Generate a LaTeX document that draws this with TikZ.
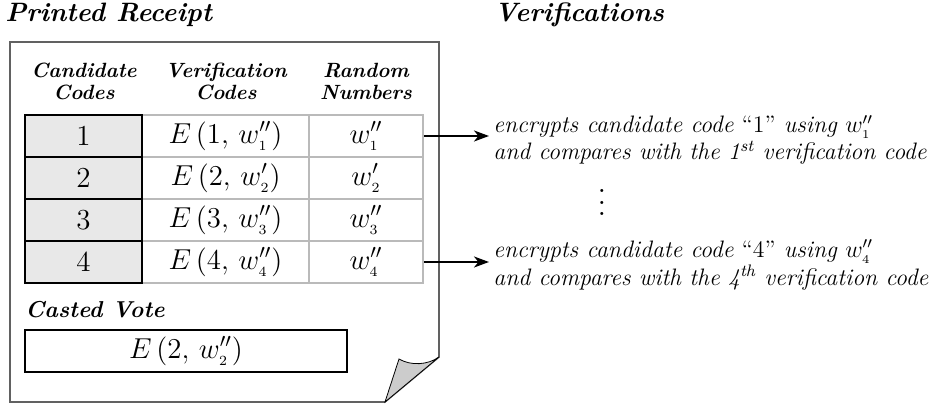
\documentclass[tikz,border=0pt]{standalone}
\usetikzlibrary{arrows.meta}
\begin{document}
\begin{tikzpicture}[x=0.5pt,y=-0.5pt,
  titletext/.style={font=\fontsize{13.3}{15}\selectfont\bfseries\itshape, anchor=base west, inner sep=0pt},
  headtext/.style={font=\fontsize{10.3}{11.2}\selectfont\bfseries\itshape, align=center, anchor=base, inner sep=0pt},
  candcell/.style={draw=black, line width=0.65pt, fill=black!9, minimum width=58.5pt, minimum height=21pt, inner sep=0pt, font=\fontsize{14.5}{16}\selectfont},
  vcell/.style={draw=black!27, line width=0.8pt, minimum width=83.5pt, minimum height=21pt, inner sep=0pt, font=\fontsize{14.5}{16}\selectfont},
  rcell/.style={draw=black!27, line width=0.8pt, minimum width=57pt, minimum height=21pt, inner sep=0pt, font=\fontsize{14.5}{16}\selectfont},
  vertext/.style={font=\fontsize{11.9}{11.7}\selectfont\itshape, align=left, anchor=west, inner sep=0pt},
  verarrow/.style={line width=1pt, -{Stealth[length=7.5pt,width=5.5pt,inset=2.2pt]}, shorten >=2pt}
]
\useasboundingbox (0,0) rectangle (938,405);
% titles
\node[titletext] (t1) at (5,22) {Printed Receipt};
\node[titletext] (t2) at (494,22) {Verifications};
% receipt sheet
\draw[black!62, line width=0.8pt] (10,42) -- (439,42) -- (439,357) -- (385,402) -- (10,402) -- cycle;
\draw[black, line width=0.4pt, fill=black!20] (385,402) -- (399,359) .. controls (411,366) and (428,365) .. (439,357) -- cycle;
% headers
\node[headtext] (h1) at (84,100) {Candidate\\Codes};
\node[headtext] (h2) at (226,100) {Verification\\Codes};
\node[headtext] (h3) at (366,100) {Random\\Numbers};
% table
\node[vcell] (v1) at (225.5,136) {$E\,(1,\,w''_{\scriptscriptstyle 1})$};
\node[vcell] (v2) at (225.5,178) {$E\,(2,\,w'_{\scriptscriptstyle 2})$};
\node[vcell] (v3) at (225.5,220) {$E\,(3,\,w''_{\scriptscriptstyle 3})$};
\node[vcell] (v4) at (225.5,262) {$E\,(4,\,w''_{\scriptscriptstyle 4})$};
\node[rcell] (r1) at (366,136) {$w''_{\scriptscriptstyle 1}$};
\node[rcell] (r2) at (366,178) {$w'_{\scriptscriptstyle 2}$};
\node[rcell] (r3) at (366,220) {$w''_{\scriptscriptstyle 3}$};
\node[rcell] (r4) at (366,262) {$w''_{\scriptscriptstyle 4}$};
\node[candcell] (c1) at (83.5,136) {1};
\node[candcell] (c2) at (83.5,178) {2};
\node[candcell] (c3) at (83.5,220) {3};
\node[candcell] (c4) at (83.5,262) {4};
% casted vote
\node[font=\fontsize{11.5}{13}\selectfont\bfseries\itshape, anchor=base west, inner sep=0pt] (cv) at (25,318) {Casted Vote};
\node[draw=black, line width=0.8pt, minimum width=161pt, minimum height=21pt, inner sep=0pt, font=\fontsize{14.5}{16}\selectfont] (vote) at (186,351) {$E\,(2,\,w''_{\scriptscriptstyle 2})$};
% verifications
\node[vertext] (ver1) at (493,140) {encrypts candidate code \textup{``1''} using $w''_{\scriptscriptstyle 1}$\\and compares with the 1\textsuperscript{st} verification code};
\node[vertext] (ver4) at (493,265) {encrypts candidate code \textup{``4''} using $w''_{\scriptscriptstyle 4}$\\and compares with the 4\textsuperscript{th} verification code};
\node[font=\fontsize{11}{12}\selectfont, inner sep=0pt, scale=1.44] (dots) at (602,194) {$\vdots$};
\draw[verarrow] (r1.east) -- (r1.east -| ver1.west);
\draw[verarrow] (r4.east) -- (r4.east -| ver4.west);
\end{tikzpicture}
\end{document}
